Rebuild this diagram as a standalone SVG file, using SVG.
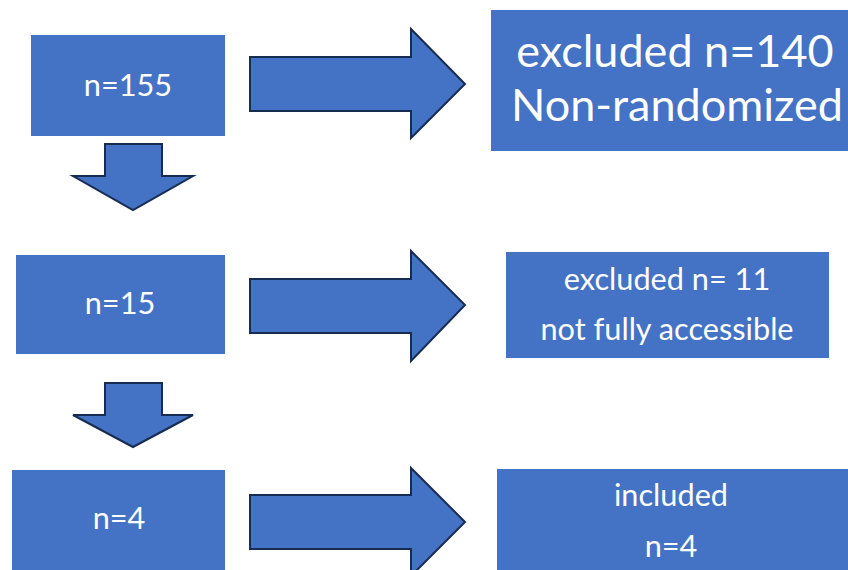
<svg xmlns="http://www.w3.org/2000/svg" width="848" height="570" viewBox="0 0 848 570">
<style>
.box{fill:#4472C4;}
.arr{fill:#4472C4;stroke:#172C51;stroke-width:2;stroke-linejoin:miter;}
.t{font-family:Lato,"Open Sans","Liberation Sans",sans-serif;fill:#FFFFFF;text-anchor:middle;font-size:30.7px;}
.big{font-size:45px;}
</style>
<rect width="848" height="570" fill="#FFFFFF"/>
<g id="connectors">
<polygon class="arr" points="250,57 411,57 411,29 465,84 411,138 411,111 250,111"/>
<polygon class="arr" points="250,279 411,279 411,251 465,305 411,361 411,333 250,333"/>
<polygon class="arr" points="250,495 411,495 411,468 465,522 411,576 411,549 250,549"/>
<polygon class="arr" points="105,144 162,144 162,176 193,176 133,210 73,176 105,176"/>
<polygon class="arr" points="105,383 162,383 162,415 193,415 133,447 73,415 105,415"/>
</g>
<g id="n155">
<rect class="box" x="31" y="35" width="194" height="101"/>
<text class="t" x="128" y="96">n=155</text>
</g>
<g id="excluded140">
<rect class="box" x="491" y="10" width="357" height="141"/>
<text class="t big" x="675" y="67">excluded n=140</text>
<text class="t big" x="677" y="121">Non-randomized</text>
</g>
<g id="n15">
<rect class="box" x="16" y="255" width="209" height="99"/>
<text class="t" x="120" y="314">n=15</text>
</g>
<g id="excluded11">
<rect class="box" x="506" y="252" width="323" height="106"/>
<text class="t" x="667" y="290">excluded n= 11</text>
<text class="t" x="667" y="340">not fully accessible</text>
</g>
<g id="n4">
<rect class="box" x="12" y="470" width="213" height="100"/>
<text class="t" x="119" y="529">n=4</text>
</g>
<g id="included">
<rect class="box" x="497" y="469" width="351" height="101"/>
<text class="t" x="671" y="506">included</text>
<text class="t" x="671" y="557">n=4</text>
</g>
</svg>
